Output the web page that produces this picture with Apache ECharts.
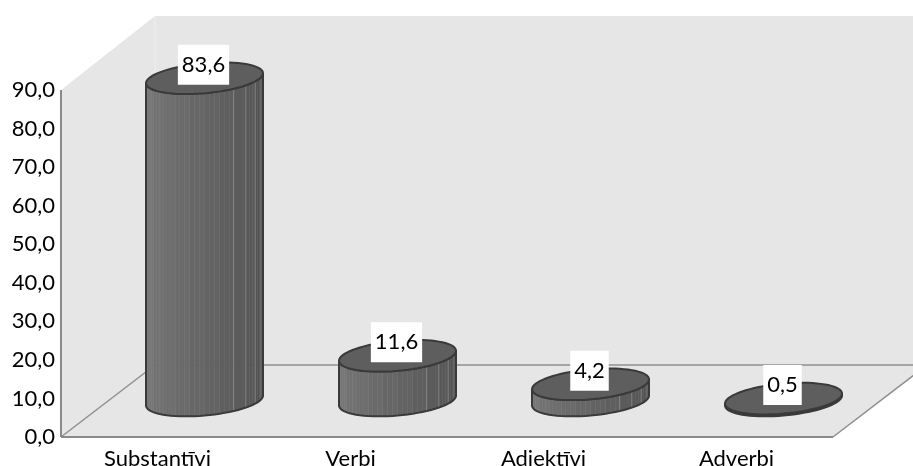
<!DOCTYPE html>
<html>
<head>
<meta charset="utf-8">
<style>html,body{margin:0;padding:0;background:#fff}#chart{width:913px;height:466px}</style>
<script src="https://cdn.jsdelivr.net/npm/echarts@6/dist/echarts.min.js"></script>
</head>
<body>
<div id="chart"></div>
<script>
const categories = ['Substantīvi', 'Verbi', 'Adjektīvi', 'Adverbi'];
const shares = [83.6, 11.6, 4.2, 0.5];
const shareLabels = ['83,6', '11,6', '4,2', '0,5'];

// Oblique projection of the chart box
const DEPTH_X = 94, DEPTH_Y = 72, WALL_RISE = 2;
const BAR_X = 47, BAR_Y = 36.5;
const RX = 58.5, RY = 15, TILT = -5;
const FACETS = 36, BANDS = 12;
const FONT = 'Lato, "Open Sans", sans-serif';

function rimPoint(cx, cy, a) {
  return [cx + RX * Math.cos(a), cy + RY * Math.sin(a) + TILT * Math.cos(a)];
}

function bandShade(a) {
  // a runs from 0 (right edge) to PI (left edge) along the front of the cylinder
  const band = Math.min(BANDS - 1, Math.floor(a / Math.PI * BANDS));
  const t = 1 - (band + 0.5) / BANDS;
  const g = Math.round(124 - 46 * t);
  return 'rgb(' + g + ',' + g + ',' + g + ')';
}

function renderBox(params) {
  const g = params.coordSys;
  const x0 = g.x, x1 = g.x + g.width, yTop = g.y, yBase = g.y + g.height;
  const backTop = yTop - DEPTH_Y - WALL_RISE, backBase = yBase - DEPTH_Y;
  const wall = { fill: '#e6e6e6' };
  const edge = { stroke: '#8a8a8a', lineWidth: 2 };
  const thin = { stroke: '#8f8f8f', lineWidth: 1.5 };
  const poly = (points, style) => ({ type: 'polygon', shape: { points }, style });
  const line = (a, b, style) => ({ type: 'line', shape: { x1: a[0], y1: a[1], x2: b[0], y2: b[1] }, style });
  return {
    type: 'group',
    children: [
      poly([[x0 + DEPTH_X, backTop], [x1 + DEPTH_X, backTop], [x1 + DEPTH_X, backBase], [x0 + DEPTH_X, backBase]], wall),
      poly([[x0, yTop], [x0 + DEPTH_X, backTop], [x0 + DEPTH_X, backBase], [x0, yBase]], wall),
      poly([[x0, yBase], [x1, yBase], [x1 + DEPTH_X, backBase], [x0 + DEPTH_X, backBase]], wall),
      line([x0 + DEPTH_X, backTop], [x0 + DEPTH_X, backBase], { stroke: '#efefef', lineWidth: 1 }),
      line([x0 + DEPTH_X, backBase], [x1 + DEPTH_X, backBase], thin),
      line([x0, yBase], [x0 + DEPTH_X, backBase], thin),
      line([x1, yBase], [x1 + DEPTH_X, backBase], thin),
      line([x0, yTop], [x0, yBase], edge),
      line([x0, yBase], [x1, yBase], edge)
    ]
  };
}

function renderCylinder(params, api) {
  const idx = api.value(0), val = api.value(1);
  const base = api.coord([idx, 0]), top = api.coord([idx, val]);
  const cx = base[0] + BAR_X, by = base[1] - BAR_Y, ty = top[1] - BAR_Y;
  const children = [];

  // Front of the body, flat strips grouped into shaded bands
  for (let i = 0; i < FACETS; i++) {
    const a0 = Math.PI * i / FACETS, a1 = Math.PI * (i + 1) / FACETS;
    const shade = bandShade((a0 + a1) / 2);
    children.push({
      type: 'polygon',
      shape: { points: [rimPoint(cx, by, a0), rimPoint(cx, by, a1), rimPoint(cx, ty, a1), rimPoint(cx, ty, a0)] },
      style: { fill: shade, stroke: shade, lineWidth: 0.5 }
    });
  }

  // Pale seams between the bands on the shaded side
  for (let b = 1; b <= 4; b++) {
    const a = Math.PI * b / BANDS;
    const p = rimPoint(cx, by, a), q = rimPoint(cx, ty, a);
    children.push({
      type: 'line',
      shape: { x1: p[0], y1: p[1], x2: q[0], y2: q[1] },
      style: { stroke: 'rgba(255,255,255,0.22)', lineWidth: 1 }
    });
  }

  // Silhouette of the body
  const outline = [];
  for (let i = 0; i <= FACETS; i++) outline.push(rimPoint(cx, by, Math.PI * i / FACETS));
  for (let i = FACETS; i >= 0; i--) outline.push(rimPoint(cx, ty, Math.PI * i / FACETS));
  children.push({
    type: 'polygon',
    shape: { points: outline },
    style: { fill: 'none', stroke: '#3a3a3a', lineWidth: 2 }
  });

  // Top cap
  const cap = [];
  for (let i = 0; i < FACETS * 2; i++) cap.push(rimPoint(cx, ty, Math.PI * i / FACETS));
  children.push({
    type: 'polygon',
    shape: { points: cap },
    style: { fill: '#5e5e5e', stroke: '#3a3a3a', lineWidth: 2 }
  });

  // Value tag
  children.push({
    type: 'text',
    x: cx - 1,
    y: ty - 13.5,
    style: {
      text: shareLabels[idx],
      font: '22px ' + FONT,
      fill: '#000',
      align: 'center',
      verticalAlign: 'middle',
      backgroundColor: '#fff',
      padding: [9, 4, 9, 4]
    }
  });
  return { type: 'group', children };
}

const chart = echarts.init(document.getElementById('chart'));
chart.setOption({
  animation: false,
  grid: { left: 61, right: 80, top: 90, bottom: 29, outerBoundsMode: 'none' },
  xAxis: {
    type: 'category',
    data: categories,
    axisLine: { show: false },
    axisTick: { show: false },
    axisLabel: { fontFamily: FONT, fontSize: 22, color: '#000', margin: 11 }
  },
  yAxis: {
    type: 'value',
    min: 0,
    max: 90,
    interval: 10,
    axisLine: { show: false },
    axisTick: { show: false },
    splitLine: { show: false },
    axisLabel: {
      fontFamily: FONT,
      fontSize: 22,
      color: '#000',
      margin: 6,
      formatter: v => v.toFixed(1).replace('.', ',')
    }
  },
  series: [
    { type: 'custom', clip: false, silent: true, z: 1, data: [[0, 0]], renderItem: renderBox },
    {
      type: 'custom',
      clip: false,
      z: 2,
      encode: { x: 0, y: 1 },
      data: shares.map((v, i) => [i, v]),
      renderItem: renderCylinder
    }
  ]
});
</script>
</body>
</html>
